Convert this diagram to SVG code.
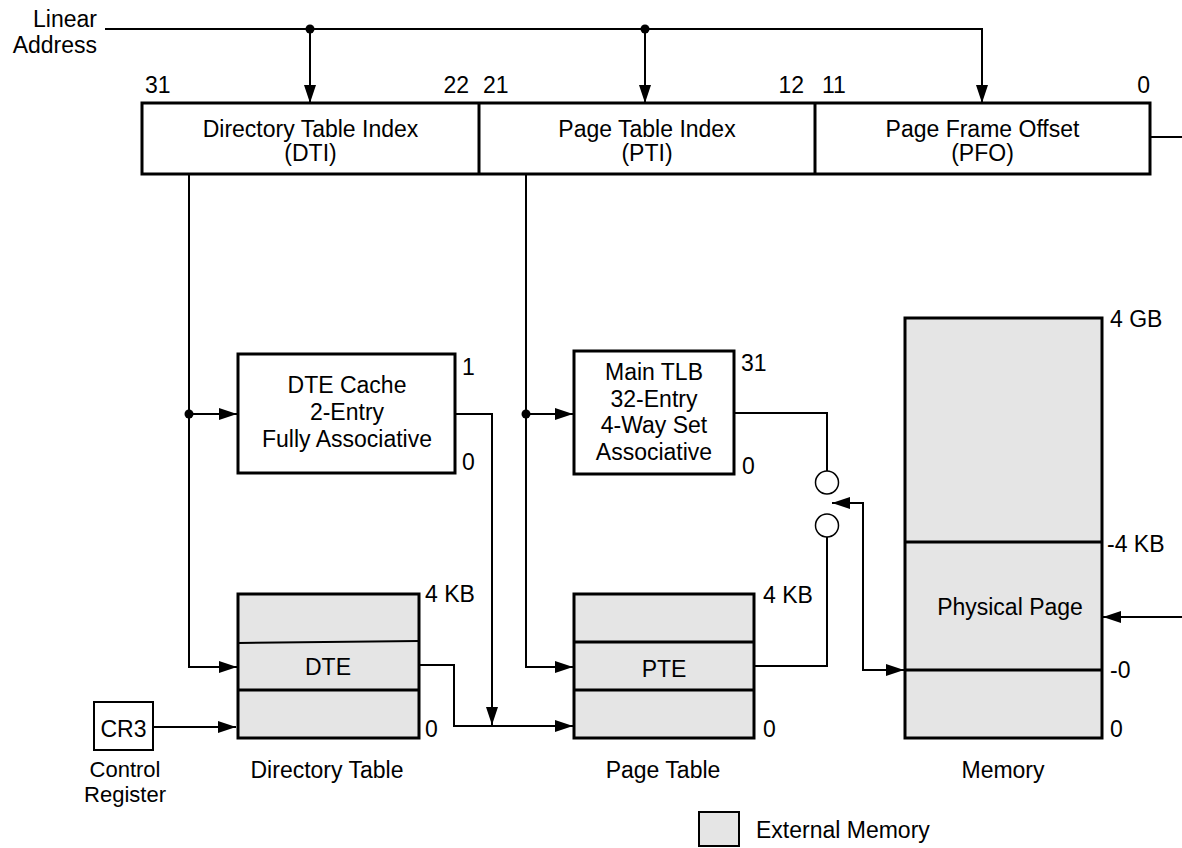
<svg xmlns="http://www.w3.org/2000/svg" width="1182" height="848" viewBox="0 0 1182 848">
<style>
text{font-family:"Liberation Sans",Arial,Helvetica,sans-serif;font-size:23px;fill:#000}
.c{text-anchor:middle}
.e{text-anchor:end}
.sm{font-size:22px}
.box{fill:#fff;stroke:#000;stroke-width:3}
.mem{fill:#e5e5e5;stroke:#000;stroke-width:3}
.div{fill:none;stroke:#000;stroke-width:3}
.wire{fill:none;stroke:#000;stroke-width:2}
.arr{marker-end:url(#ah)}
.dot{fill:#000}
.ring{fill:#fff;stroke:#000;stroke-width:1.5}
</style>
<defs>
<marker id="ah" markerUnits="userSpaceOnUse" markerWidth="18" markerHeight="12" refX="18" refY="6" orient="auto-start-reverse">
<path d="M0,0 L18,6 L0,12 z" fill="#000"/>
</marker>
</defs>
<rect width="1182" height="848" fill="#fff"/>

<g id="linear-address-label">
<text class="e" x="97" y="27">Linear</text>
<text class="e" x="97" y="53">Address</text>
</g>

<g id="linear-address">
<rect class="box" x="142" y="103" width="1008" height="71"/>
<line class="div" x1="479" y1="103" x2="479" y2="174"/>
<line class="div" x1="815" y1="103" x2="815" y2="174"/>
<text x="145" y="93">31</text>
<text class="e" x="469" y="93">22</text>
<text x="483" y="93">21</text>
<text class="e" x="804" y="93">12</text>
<text x="822" y="93">11</text>
<text class="e" x="1150" y="93">0</text>
<text class="c" x="310.5" y="137">Directory Table Index</text>
<text class="c" x="310.5" y="161">(DTI)</text>
<text class="c" x="647" y="137">Page Table Index</text>
<text class="c" x="647" y="161">(PTI)</text>
<text class="c" x="982.5" y="137">Page Frame Offset</text>
<text class="c" x="982.5" y="161">(PFO)</text>
</g>

<g id="dte-cache">
<rect class="box" x="238" y="354" width="217" height="119"/>
<text class="c" x="347" y="393">DTE Cache</text>
<text class="c" x="347" y="420">2-Entry</text>
<text class="c" x="347" y="447">Fully Associative</text>
<text x="462" y="375">1</text>
<text x="462" y="470">0</text>
</g>

<g id="main-tlb">
<rect class="box" x="574" y="351" width="160" height="123"/>
<text class="c" x="654" y="380">Main TLB</text>
<text class="c" x="654" y="406.5">32-Entry</text>
<text class="c" x="654" y="433">4-Way Set</text>
<text class="c" x="654" y="459.5">Associative</text>
<text x="741" y="371">31</text>
<text x="742" y="474">0</text>
</g>

<g id="directory-table">
<rect class="mem" x="238" y="594" width="181" height="144"/>
<line stroke="#000" stroke-width="2" x1="238" y1="643" x2="419" y2="641"/>
<line class="div" x1="238" y1="690" x2="419" y2="690"/>
<text class="c" x="328" y="675">DTE</text>
<text x="425" y="602">4 KB</text>
<text x="425" y="737">0</text>
<text class="c" x="327" y="778">Directory Table</text>
</g>

<g id="page-table">
<rect class="mem" x="574" y="594" width="180" height="144"/>
<line class="div" x1="574" y1="642" x2="754" y2="642"/>
<line class="div" x1="574" y1="690" x2="754" y2="690"/>
<text class="c" x="664" y="677">PTE</text>
<text x="763" y="603">4 KB</text>
<text x="763" y="737">0</text>
<text class="c" x="663" y="778">Page Table</text>
</g>

<g id="memory">
<rect class="mem" x="905" y="318" width="197" height="420"/>
<line class="div" x1="905" y1="542" x2="1102" y2="542"/>
<line class="div" x1="905" y1="670" x2="1102" y2="670"/>
<text class="c" x="1010" y="615">Physical Page</text>
<text x="1110" y="327">4 GB</text>
<text x="1107" y="552">-4 KB</text>
<text x="1110" y="678">-0</text>
<text x="1110" y="737">0</text>
<text class="c" x="1003" y="778">Memory</text>
</g>

<g id="cr3">
<rect fill="#fff" stroke="#000" stroke-width="2" x="94" y="702" width="59" height="48"/>
<text class="c" x="123.5" y="737">CR3</text>
<text class="c sm" x="125" y="777">Control</text>
<text class="c sm" x="125" y="802">Register</text>
</g>

<g id="legend">
<rect fill="#e5e5e5" stroke="#000" stroke-width="2" x="699" y="812" width="40" height="34"/>
<text x="756" y="838">External Memory</text>
</g>

<g id="connectors">
<path class="wire arr" d="M105,29 H982 V103"/>
<path class="wire arr" d="M310,29 V103"/>
<path class="wire arr" d="M645,29 V103"/>
<circle class="dot" cx="310" cy="29" r="4.5"/>
<circle class="dot" cx="645" cy="29" r="4.5"/>
<path class="wire" d="M1150,137 H1182"/>
<path class="wire arr" d="M189,174 V667 H237"/>
<path class="wire arr" d="M189,414 H237"/>
<circle class="dot" cx="189" cy="414" r="4.5"/>
<path class="wire arr" d="M455,414 H492 V725"/>
<path class="wire arr" d="M419,665 H454 V726 H573"/>
<path class="wire arr" d="M153,727 H236"/>
<path class="wire arr" d="M526,174 V667 H573"/>
<path class="wire arr" d="M526,414 H573"/>
<circle class="dot" cx="526" cy="414" r="4.5"/>
<path class="wire" d="M734,413 H827 V471"/>
<circle class="ring" cx="827" cy="482.5" r="11.5"/>
<circle class="ring" cx="827" cy="525.5" r="11.5"/>
<path class="wire" d="M827,537 V666 H754"/>
<path class="wire arr" style="marker-start:url(#ah)" d="M904,670 H863 V503 H832"/>
<path class="wire arr" d="M1182,617 H1103"/>
</g>
</svg>
